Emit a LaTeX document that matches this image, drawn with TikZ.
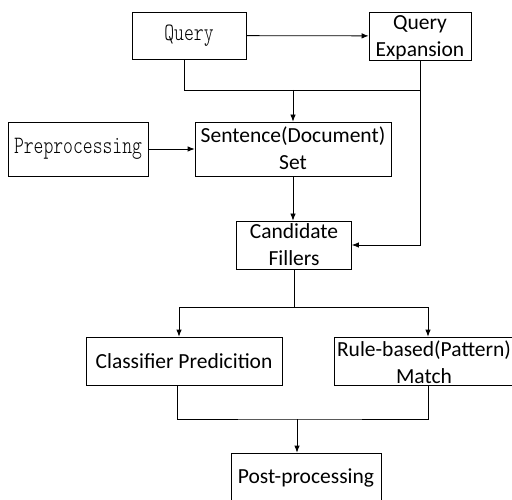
\documentclass[tikz,border=0pt]{standalone}
\usepackage{fontspec}
\usetikzlibrary{arrows.meta}

\newfontfamily\blockfont{Carlito}
\newfontfamily\typefont[FakeStretch=0.75]{Latin Modern Mono Light}

\begin{document}
\begin{tikzpicture}[x=1pt,y=-1pt]

      % Box styles: plain boxes, boxes with two lines of text, and boxes set in a typewriter face
      \tikzstyle{block}=[draw, line width=0.8pt, inner sep=0pt, minimum height=48pt, font=\blockfont\fontsize{21.5}{27}\selectfont]
      \tikzstyle{twoline}=[block, text height=18pt, text depth=30pt]
      \tikzstyle{typed}=[block, font=\typefont\fontsize{25}{30}\selectfont]
      \tikzstyle{line}=[draw, line width=0.8pt]
      \tikzstyle{arrow}=[line, -{Latex[length=7pt,width=5.5pt]}]

      \useasboundingbox (0,0) rectangle (512,500);

      % Boxes
      \node[typed, minimum width=114pt, minimum height=47pt] (query) at (189,35.5) {Query};
      \node[twoline, minimum width=102pt] (qexp) at (420,36) {\begin{tabular}[t]{@{}c@{}}Query\\Expansion\end{tabular}};

      \node[typed, minimum width=140pt, minimum height=54pt] (prep) at (78,149) {Preprocessing};
      \node[twoline, minimum width=196pt, minimum height=54pt, text height=21pt, text depth=33pt] (sent) at (293,149) {\begin{tabular}[t]{@{}c@{}}Sentence(Document)\\Set\end{tabular}};

      \node[twoline, minimum width=115pt] (cand) at (294,245) {\begin{tabular}[t]{@{}c@{}}Candidate\\Fillers\end{tabular}};

      \node[block, minimum width=196pt] (cls) at (184,361) {Classifier Predicition};
      \node[twoline, minimum width=180pt, text height=19pt, text depth=29pt] (rule) at (424,361) {\begin{tabular}[t]{@{}c@{}}Rule-based(Pattern)\\Match\end{tabular}};

      \node[block, minimum width=150pt, minimum height=50pt] (post) at (306,478) {Post-processing};

      % Joints of the connectors
      \coordinate (qjoin) at (sent.north |- 0,90);
      \coordinate (split) at (cand.south |- 0,307);
      \coordinate (merge) at (297,419);

      % Top part
      \draw[arrow] (query) -- (qexp);
      \draw[line] ([xshift=-5pt]query.south) |- (qexp.south |- qjoin);
      \draw[arrow] (qjoin) -- (sent.north);
      \draw[arrow] (prep) -- (sent);
      \draw[arrow] (qexp.south) |- (cand.east);
      \draw[arrow] (sent.south) -- (sent.south |- cand.north);

      % Bottom part
      \draw[line] (cand.south) -- (split);
      \draw[arrow] (split) -| ([xshift=-5pt]cls.north);
      \draw[arrow] (split) -| ([xshift=4pt]rule.north);
      \draw[line] ([xshift=-7pt]cls.south) |- (merge) -| ([xshift=4pt]rule.south);
      \draw[arrow] (merge) -- (merge |- post.north);

\end{tikzpicture}
\end{document}
